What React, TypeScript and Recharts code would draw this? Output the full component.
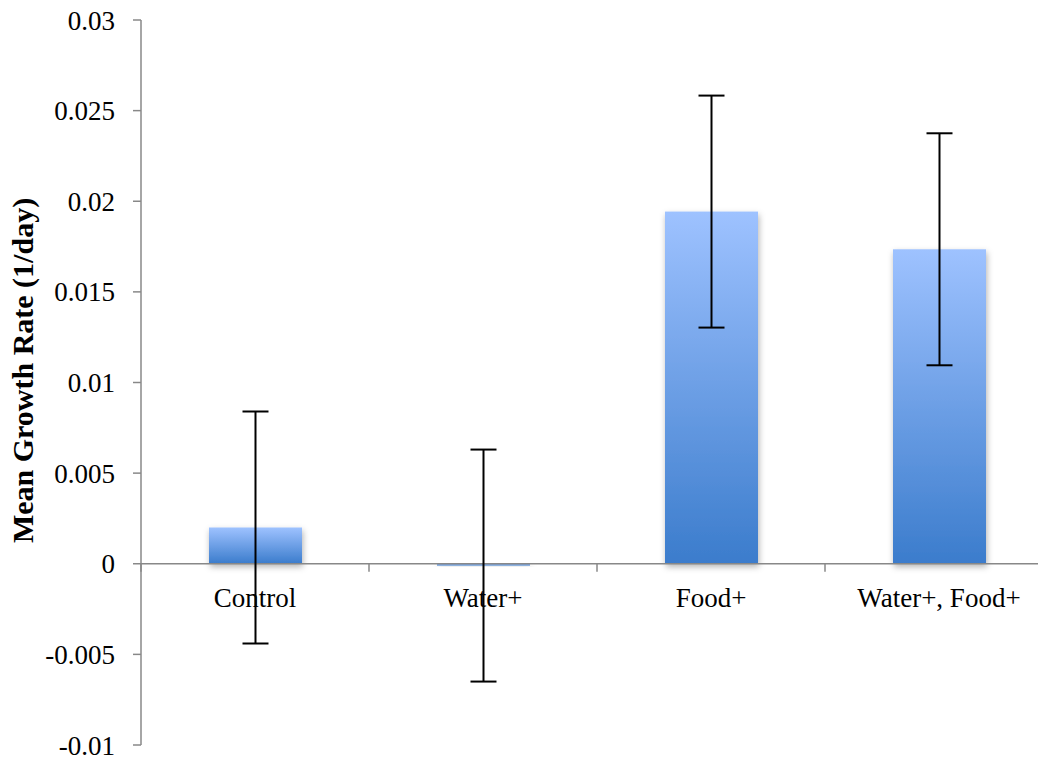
import { BarChart, Bar, XAxis, YAxis, ErrorBar, ReferenceLine, Label } from "recharts"

const categories = ["Control", "Water+", "Food+", "Water+, Food+"]
const meanRates = [0.002, -0.0001, 0.01943, 0.01735]
const errors = [0.0064, 0.0064, 0.0064, 0.0064]
const yTicks = [-0.01, -0.005, 0, 0.005, 0.01, 0.015, 0.02, 0.025, 0.03]

const data = categories.map((name, i) => ({ name, rate: meanRates[i], err: errors[i] }))

const FONT = "'Liberation Serif', 'Times New Roman', serif"
const AXIS_GREY = "#888888"

// the svg is pulled over the body margin so it starts at the page corner
const CHART_W = 1053
const CHART_H = 760
const MARGIN = { top: 20, right: 0, bottom: 14, left: 0 }
const Y_AXIS_W = 141
const X_AXIS_H = 1
const Y_MIN = yTicks[0]
const Y_MAX = yTicks[yTicks.length - 1]

const plotH = CHART_H - MARGIN.top - MARGIN.bottom - X_AXIS_H
const plotW = CHART_W - MARGIN.left - MARGIN.right - Y_AXIS_W
const zeroY = MARGIN.top + plotH * (Y_MAX / (Y_MAX - Y_MIN))
const band = plotW / categories.length

// category labels sit just under the zero line, like the Excel original
const CategoryTick = (props: any) => {
    const { x, payload } = props
    return (
        <g>
            <line x1={x - band / 2} y1={zeroY} x2={x - band / 2} y2={zeroY + 8} stroke={AXIS_GREY} strokeWidth={1.5} />
            <text x={x} y={zeroY + 43} textAnchor="middle" fontFamily={FONT} fontSize={27} fill="#000">
                {payload.value}
            </text>
        </g>
    )
}

const BarShape = (props: any) => {
    const { x, y, width, height } = props
    const top = Math.min(y, y + height)
    const h = Math.max(Math.abs(height), 1.5)
    return <rect x={x} y={top} width={width} height={h} fill="url(#barGrad)" filter="url(#barShadow)" />
}

const YTitle = (props: any) => {
    const vb = props.viewBox || { x: 0, y: 0, width: 0, height: 0 }
    const cx = 33
    const cy = vb.y + vb.height / 2 - 12
    return (
        <text
            x={cx}
            y={cy}
            transform={`rotate(-90, ${cx}, ${cy})`}
            textAnchor="middle"
            fontFamily={FONT}
            fontSize={30}
            fontWeight="bold"
            fill="#000"
        >
            Mean Growth Rate (1/day)
        </text>
    )
}

export default function App() {
    return (
        <div style={{ width: 1046, height: 760, margin: "-8px 0 0 -8px", overflow: "hidden", background: "#fff" }}>
            <BarChart width={CHART_W} height={CHART_H} data={data} margin={MARGIN}>
                <defs>
                    <linearGradient id="barGrad" x1="0" y1="0" x2="0" y2="1">
                        <stop offset="0%" stopColor="#9ec2ff" />
                        <stop offset="100%" stopColor="#3b7ccc" />
                    </linearGradient>
                    <filter id="barShadow" x="-20%" y="-20%" width="140%" height="160%">
                        <feDropShadow dx="1" dy="3" stdDeviation="3" floodColor="#000" floodOpacity="0.3" />
                    </filter>
                </defs>
                <XAxis
                    dataKey="name"
                    height={X_AXIS_H}
                    axisLine={false}
                    tickLine={false}
                    tick={<CategoryTick />}
                    interval={0}
                />
                <YAxis
                    width={Y_AXIS_W}
                    domain={[Y_MIN, Y_MAX]}
                    ticks={yTicks}
                    tickFormatter={(v: number) => String(v)}
                    stroke={AXIS_GREY}
                    strokeWidth={1.5}
                    tickSize={8}
                    tickMargin={18}
                    tick={{ fontFamily: FONT, fontSize: 27, fill: "#000" }}
                    interval={0}
                >
                    <Label content={<YTitle />} />
                </YAxis>
                <ReferenceLine y={0} stroke={AXIS_GREY} strokeWidth={1.5} />
                <Bar dataKey="rate" barSize={93} shape={<BarShape />} isAnimationActive={false}>
                    <ErrorBar dataKey="err" width={13} strokeWidth={2} stroke="#000" direction="y" isAnimationActive={false} />
                </Bar>
            </BarChart>
        </div>
    )
}
